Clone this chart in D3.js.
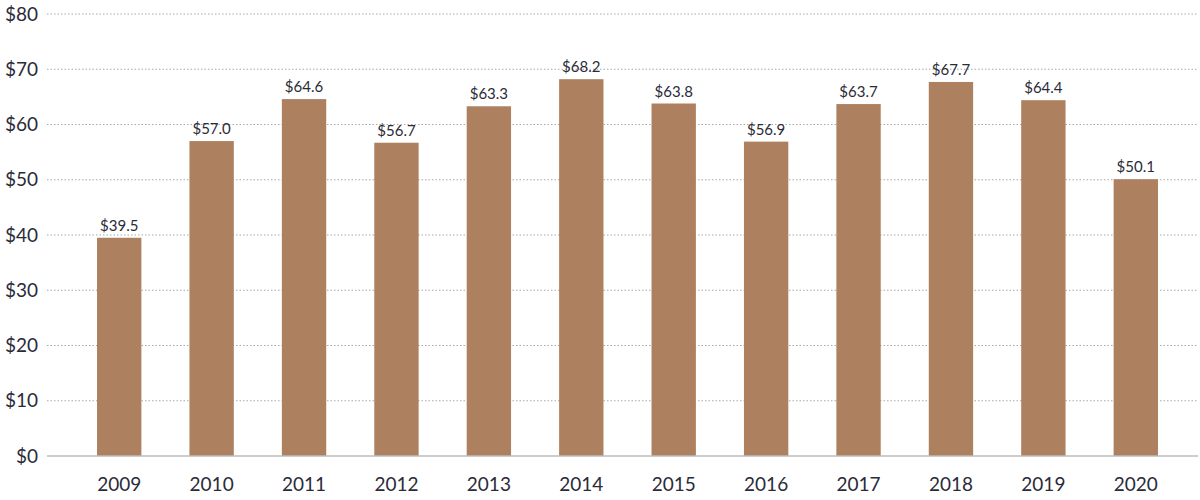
<!DOCTYPE html>
<html><head><meta charset="utf-8">
<script src="https://cdn.jsdelivr.net/npm/d3@7/dist/d3.min.js"></script>
<style>body{margin:0;background:#fff;} text{font-family:Lato, "Open Sans", sans-serif;}</style>
</head><body>
<svg id="c" width="1200" height="500"></svg>
<script>
const years = ["2009","2010","2011","2012","2013","2014","2015","2016","2017","2018","2019","2020"];
const values = [39.5,57.0,64.6,56.7,63.3,68.2,63.8,56.9,63.7,67.7,64.4,50.1];
const yTicks = [0,10,20,30,40,50,60,70,80];

const svg = d3.select("#c");
const x = d3.scaleBand().domain(years).range([73,1182]).paddingInner(0.52).paddingOuter(0.26);
const y = d3.scaleLinear().domain([0,80]).range([456,14]);
const gridX0 = 47, gridX1 = 1198;

svg.append("g").selectAll("line").data(yTicks.filter(d=>d>0)).join("line")
  .attr("x1",gridX0).attr("x2",gridX1).attr("y1",d=>y(d)).attr("y2",d=>y(d))
  .attr("stroke","#a8a8a8").attr("stroke-width",1).attr("stroke-dasharray","1.5,2");

svg.append("g").selectAll("rect").data(values).join("rect")
  .attr("x",(d,i)=>x(years[i])).attr("width",x.bandwidth())
  .attr("y",d=>y(d)).attr("height",d=>y(0)-y(d))
  .attr("fill","#ad815f");

svg.append("line").attr("x1",gridX0).attr("x2",gridX1).attr("y1",y(0)).attr("y2",y(0))
  .attr("stroke","#bdbdbd").attr("stroke-width",1.5);

svg.append("g").selectAll("text").data(yTicks).join("text")
  .attr("x",38).attr("y",d=>y(d)).attr("dy","0.35em").attr("text-anchor","end")
  .attr("font-size",19).attr("fill","#2b2b38").text(d=>"$"+d);

svg.append("g").selectAll("text").data(years).join("text")
  .attr("x",d=>x(d)+x.bandwidth()/2).attr("y",491).attr("text-anchor","middle")
  .attr("font-size",19).attr("fill","#2b2b38").text(d=>d);

svg.append("g").selectAll("text").data(values).join("text")
  .attr("x",(d,i)=>x(years[i])+x.bandwidth()/2).attr("y",d=>y(d)-7).attr("text-anchor","middle")
  .attr("font-size",15).attr("fill","#2b2b38").text(d=>"$"+d.toFixed(1));
</script>
</body></html>
